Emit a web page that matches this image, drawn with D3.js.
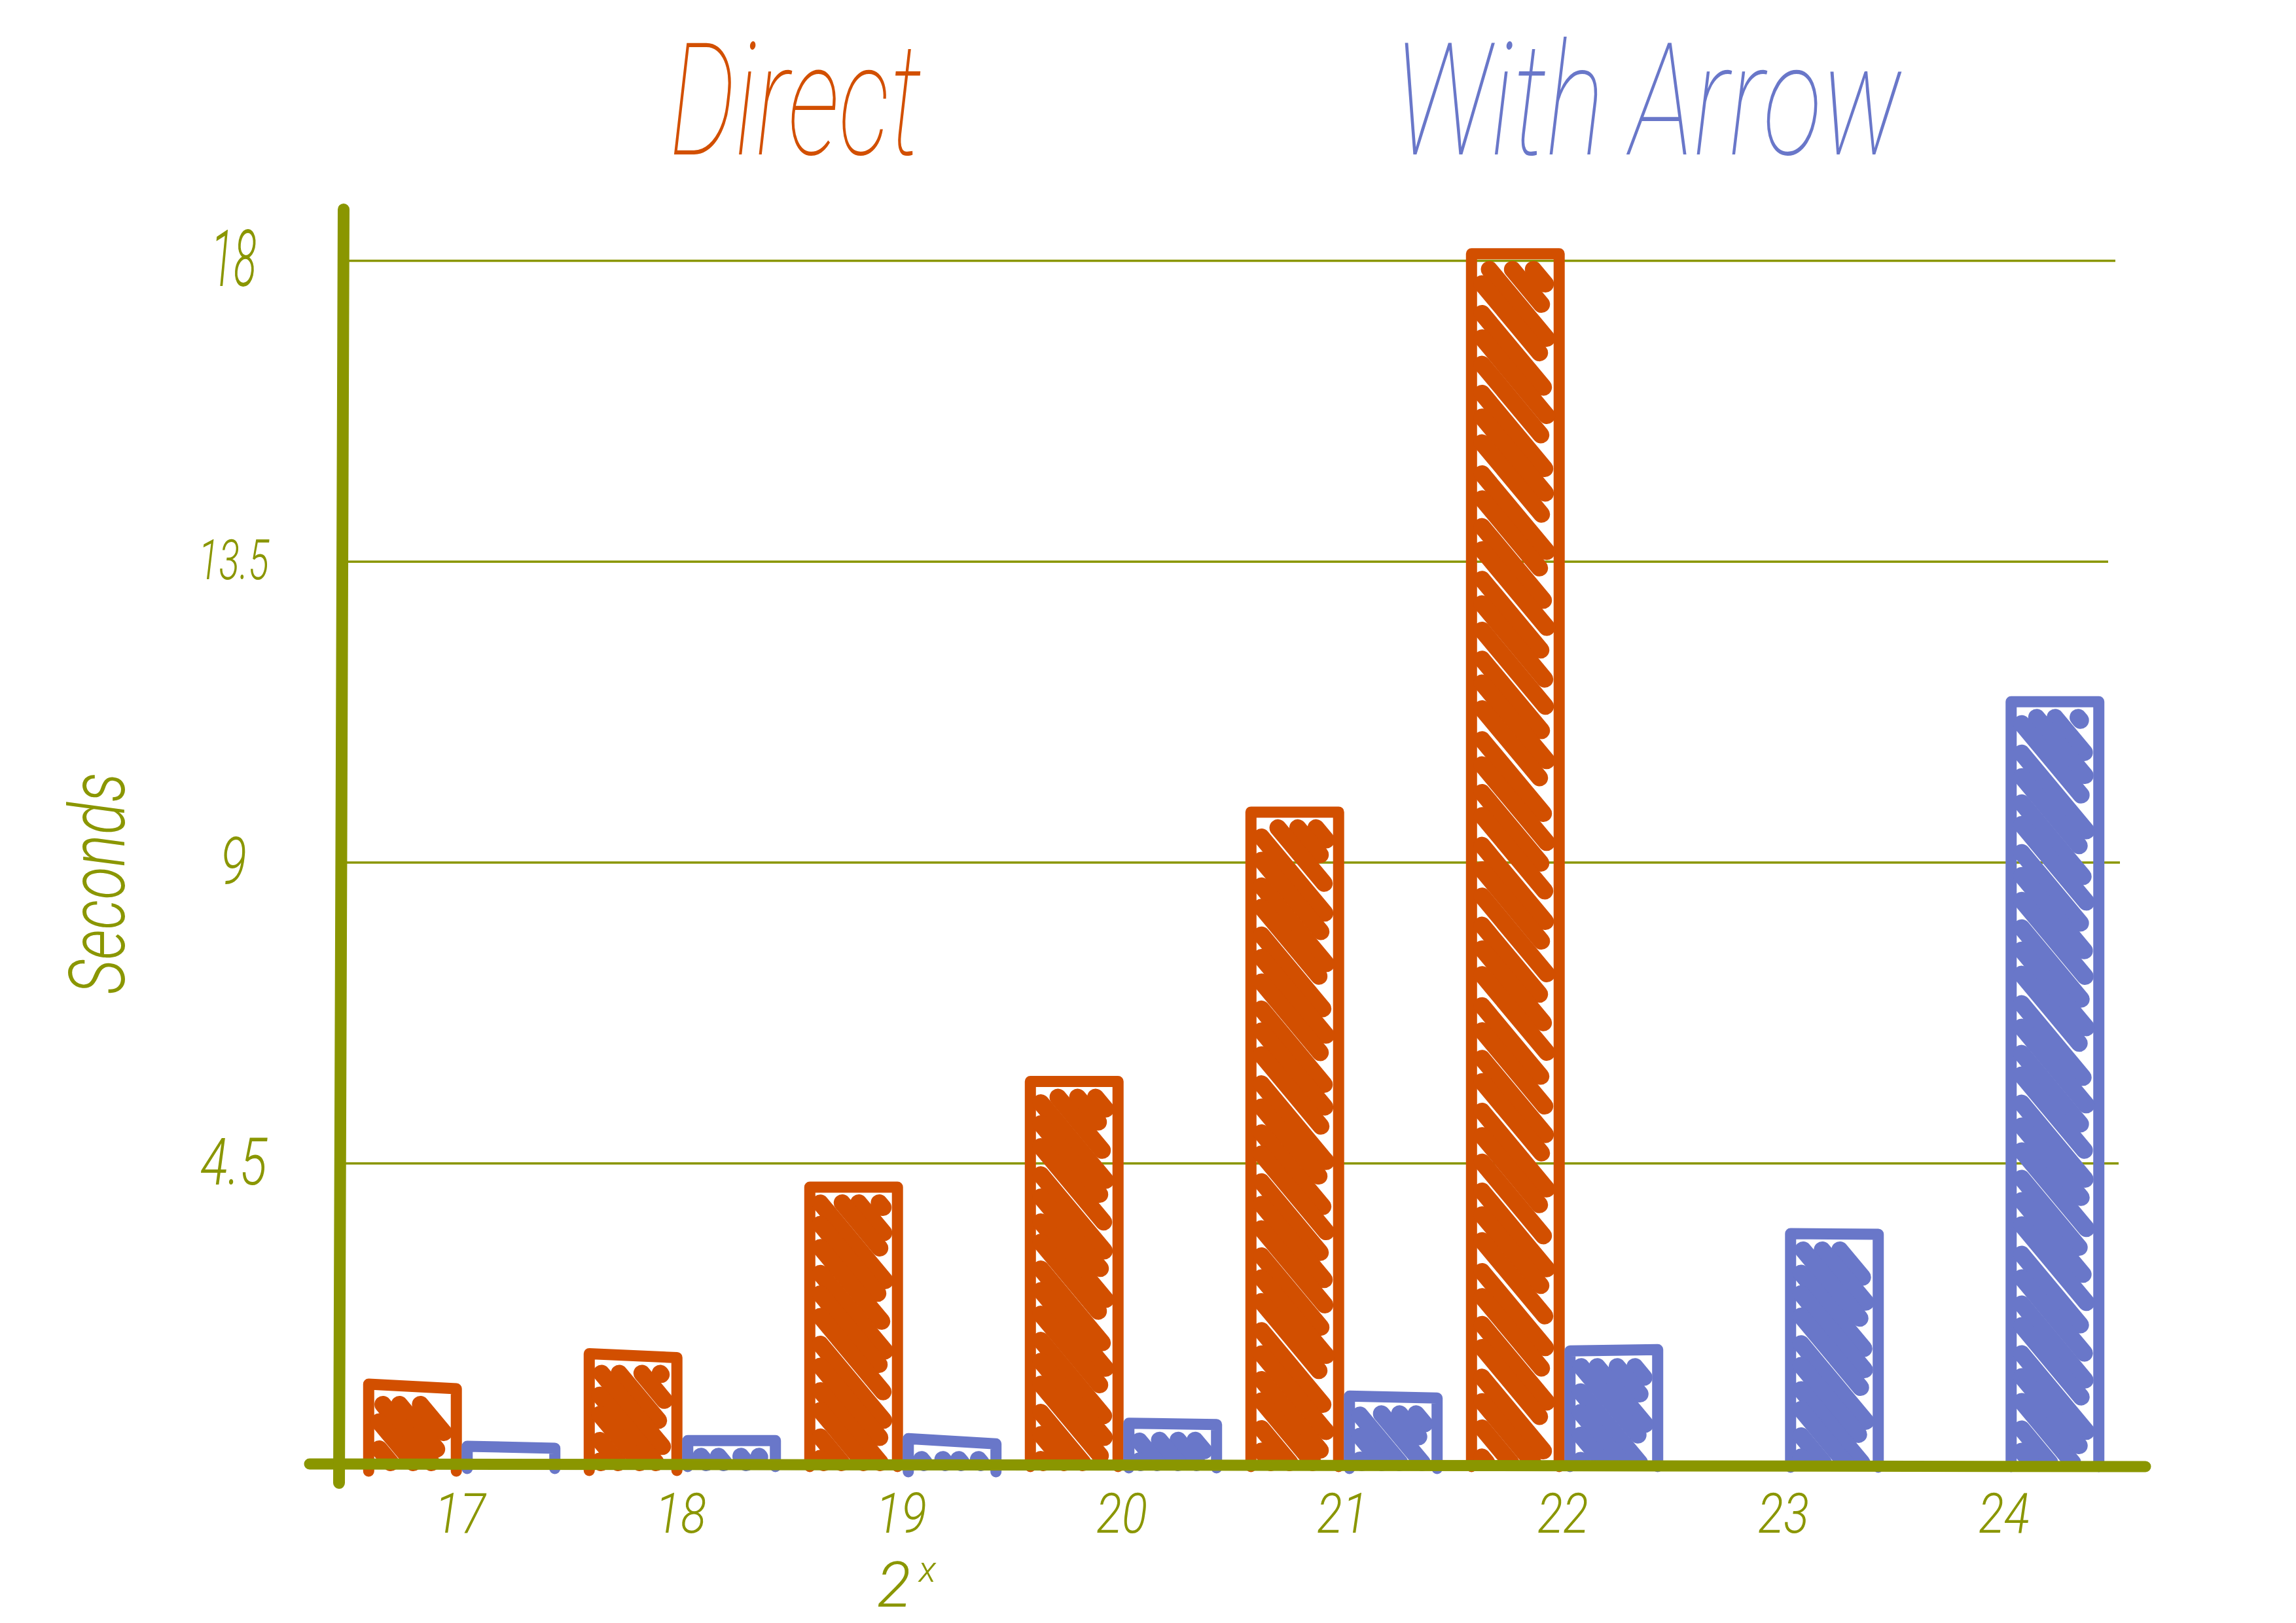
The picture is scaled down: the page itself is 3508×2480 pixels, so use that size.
<!DOCTYPE html>
<html>
<head>
<meta charset="utf-8">
<script src="https://cdn.jsdelivr.net/npm/d3@7"></script>
<style>
  html, body { margin: 0; padding: 0; background: #fff; }
  svg { display: block; }
  text { font-family: Roboto, "Liberation Sans", sans-serif; font-style: italic; font-weight: 300; fill: #8a9600; }
  .title { font-weight: 100; }
</style>
</head>
<body>
<div id="chart"></div>
<script>
// values
const exponents = ["17", "18", "19", "20", "21", "22", "23", "24"];
const directSeconds = [1.16, 1.62, 4.14, 5.72, 9.75, 18.1, null, null];
const arrowSeconds = [0.25, 0.35, 0.34, 0.6, 1.0, 1.7, 3.44, 11.4];
const yTicks = [4.5, 9, 13.5, 18];
const seriesNames = ["Direct", "With Arrow"];

// how crooked the hand drawn tops are, px
const directTilt = [7, 6, 0, 0, 0, 0, 0, 0];
const arrowTilt = [3, 0, 8, 2, 3, -2, 1, 0];
const gridEnds = [3237, 3239, 3221, 3232];
const yTickSizes = [100, 100, 85, 120];
const yTickLens = [102, 40, 108, 70];
const hatchSteps = [31, 34, 38, 30, 33, 41, 32, 36, 29, 39];
const hatchGaps = [2, 8, 0, 11, 5, 0, 9, 3];

const colors = { "Direct": "#d24f00", "With Arrow": "#6977c9" };
const olive = "#8a9600";

const width = 3508, height = 2480;

const svg = d3.select("#chart").append("svg")
    .attr("width", width)
    .attr("height", height)
    .attr("viewBox", `0 0 ${width} ${height}`);

svg.append("rect").attr("width", width).attr("height", height).attr("fill", "#fff");

const x = d3.scaleBand().domain(exponents).range([534.5, 3230.5]);
const xSub = d3.scaleBand().domain(seriesNames).range([-148, 153]).paddingInner(0.11).paddingOuter(0.055);
const y = d3.scaleLinear().domain([0, 18]).range([2237, 398]);

// y axis, its long ticks are the grid lines
const yAxis = svg.append("g")
    .attr("transform", "translate(522,0)")
    .call(d3.axisLeft(y).tickValues(yTicks).tickSize(0).tickFormat(d => d));
yAxis.select(".domain").remove();
yAxis.selectAll("line")
    .attr("x1", 0)
    .attr("x2", (d, i) => gridEnds[i] - 522)
    .attr("stroke", olive)
    .attr("stroke-width", 3.5);
yAxis.selectAll("text")
    .attr("x", -165)
    .attr("text-anchor", "middle")
    .attr("font-size", (d, i) => yTickSizes[i])
    .attr("textLength", (d, i) => yTickLens[i])
    .attr("lengthAdjust", "spacingAndGlyphs")
    .attr("fill", olive);

function drawBars(name, values, tilts) {
    const color = colors[name];
    const g = svg.append("g").attr("class", "series");
    const bw = xSub.bandwidth();
    values.forEach((v, i) => {
        if (v === null) return;
        const left = x(exponents[i]) + x.bandwidth() / 2 + xSub(name);
        const right = left + bw;
        const top = y(v);
        const tilt = tilts[i];
        const base = y(0) + 4 + Math.max(tilt, 0);

        const line = d3.line();
        g.append("path")
            .attr("d", line([[left, base], [left, top - tilt / 2], [right, top + tilt / 2], [right, base]]))
            .attr("fill", "none")
            .attr("stroke", color)
            .attr("stroke-width", 17)
            .attr("stroke-linejoin", "round")
            .attr("stroke-linecap", "round");

        // scribbled fill, strokes run down to the right
        const slope = 1.2;
        const xa = left + 16;
        const yTop = top + Math.abs(tilt) / 2 + 24;
        const yBot = y(0) - 2;
        let c = yTop - slope * right;
        let n = i * 3;
        while (c + slope * xa < yBot) {
            const xb = right - 19 - hatchGaps[n % hatchGaps.length];
            const x1 = Math.max(xa, (yTop - c) / slope);
            const x2 = Math.min(xb, (yBot - c) / slope);
            if (x2 >= x1) {
                g.append("line")
                    .attr("x1", x1).attr("y1", c + slope * x1)
                    .attr("x2", x2).attr("y2", c + slope * x2)
                    .attr("stroke", color)
                    .attr("stroke-width", 26)
                    .attr("stroke-linecap", "round");
            }
            // taller bars were scribbled more loosely
            c += hatchSteps[n % hatchSteps.length] + v * 0.35;
            n++;
        }
    });
}

drawBars("Direct", directSeconds, directTilt);
drawBars("With Arrow", arrowSeconds, arrowTilt);

// x axis
const xAxis = svg.append("g")
    .attr("transform", `translate(0,${y(0) + 2})`)
    .call(d3.axisBottom(x).tickSize(0).tickPadding(42));
xAxis.select(".domain").remove();
xAxis.selectAll("text")
    .attr("font-size", 86)
    .attr("textLength", 78)
    .attr("lengthAdjust", "spacingAndGlyphs")
    .attr("fill", olive);

const axisLine = d3.line();
svg.append("path")
    .attr("d", axisLine([[473, y(0)], [3278, y(0) + 4]]))
    .attr("stroke", olive)
    .attr("stroke-width", 17)
    .attr("stroke-linecap", "round")
    .attr("fill", "none");
svg.append("path")
    .attr("d", axisLine([[525, 320], [518, 2266]]))
    .attr("stroke", olive)
    .attr("stroke-width", 18)
    .attr("stroke-linecap", "round")
    .attr("fill", "none");

// titles
svg.append("text")
    .attr("class", "title")
    .attr("x", 1023).attr("y", 236)
    .attr("font-size", 240)
    .attr("textLength", 385)
    .attr("lengthAdjust", "spacingAndGlyphs")
    .style("fill", colors["Direct"])
    .text("Direct");
svg.append("text")
    .attr("class", "title")
    .attr("x", 2131).attr("y", 236)
    .attr("font-size", 240)
    .attr("textLength", 775)
    .attr("lengthAdjust", "spacingAndGlyphs")
    .style("fill", colors["With Arrow"])
    .text("With Arrow");

// axis titles
svg.append("text")
    .attr("transform", "translate(190,1350) rotate(-90)")
    .attr("text-anchor", "middle")
    .attr("font-size", 118)
    .attr("textLength", 339)
    .attr("lengthAdjust", "spacingAndGlyphs")
    .text("Seconds");

const xTitle = svg.append("text")
    .attr("x", 1340).attr("y", 2455)
    .attr("font-size", 96);
xTitle.append("tspan").text("2");
xTitle.append("tspan").attr("font-size", 56).attr("dx", 12).attr("dy", -38).text("x");
</script>
</body>
</html>
